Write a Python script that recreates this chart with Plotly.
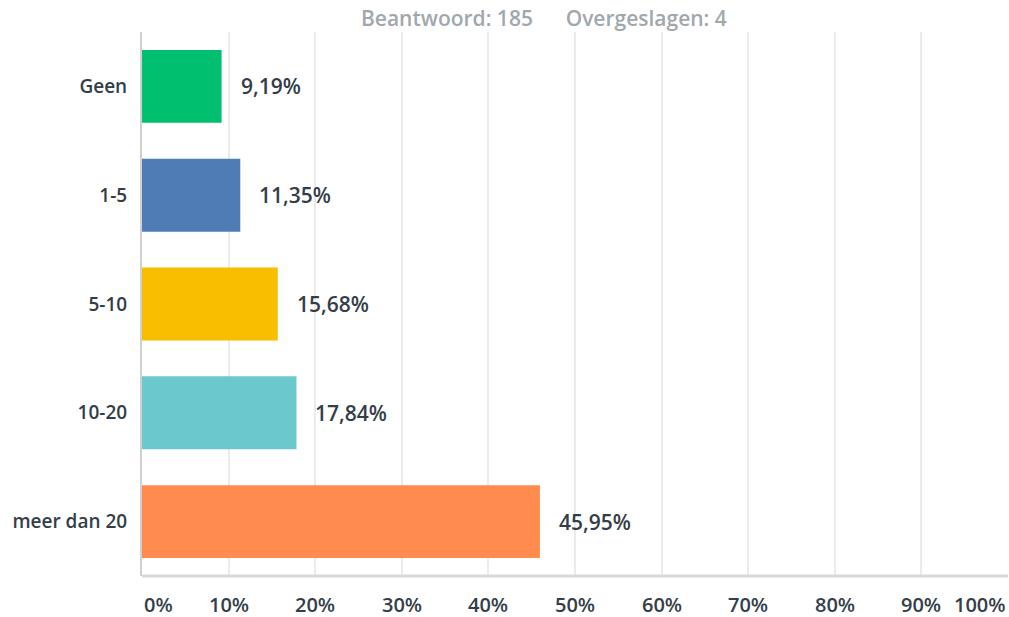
import plotly.graph_objects as go

categories = ["Geen", "1-5", "5-10", "10-20", "meer dan 20"]
values = [9.19, 11.35, 15.68, 17.84, 45.95]
colors = ["#00BF6F", "#507CB6", "#F9BE00", "#6BC8CD", "#FF8B4F"]
tick_vals = [0, 10, 20, 30, 40, 50, 60, 70, 80, 90, 100]
tick_text = [f"{v}%" for v in tick_vals]
header = "Beantwoord: 185      Overgeslagen: 4"

FONT = "Open Sans"
DARK = "#333E48"

fig = go.Figure()
fig.add_trace(go.Bar(
    y=categories, x=values, orientation="h",
    marker=dict(color=colors, line=dict(width=0)),
    width=0.67, hoverinfo="skip",
))

annotations = []
for c, v in zip(categories, values):
    annotations.append(dict(
        x=v, y=c, xref="x", yref="y", text=f"{v:.2f}".replace(".", ",") + "%",
        showarrow=False, xanchor="left", xshift=17,
        font=dict(family=FONT, size=21, color=DARK, weight=600),
    ))
for tv, tt in zip(tick_vals, tick_text):
    anchor = "center"
    if tv == 0:
        anchor = "left"
    elif tv == 100:
        anchor = "right"
    annotations.append(dict(
        x=tv, y=0, xref="x", yref="paper", text=tt, showarrow=False,
        xanchor=anchor, yanchor="middle", yshift=-28, height=22, valign="middle",
        font=dict(family=FONT, size=20, color=DARK, weight=600),
    ))
annotations.append(dict(
    x=(544 - 142) / (1008 - 142), y=1 + (32 - 18) / 544, xref="paper", yref="paper",
    text=header, showarrow=False, yanchor="middle",
    font=dict(family=FONT, size=21, color="#A0A8AE", weight=600),
))

fig.update_layout(
    width=1009, height=617,
    margin=dict(l=142, r=1, t=32, b=41),
    paper_bgcolor="white", plot_bgcolor="white",
    showlegend=False,
    annotations=annotations,
    xaxis=dict(
        range=[0, 100], tickvals=tick_vals, showticklabels=False,
        showgrid=True, gridcolor="#EBEBEB", gridwidth=2,
        zeroline=False, showline=False, fixedrange=True,
    ),
    yaxis=dict(
        categoryorder="array", categoryarray=categories, autorange="reversed",
        range=[4.5, -0.5], showgrid=False, zeroline=False,
        showline=True, linecolor="#D0D0D0", linewidth=2,
        ticks="", ticklabelstandoff=9,
        tickfont=dict(family=FONT, size=19, color=DARK, weight=600),
    ),
    shapes=[dict(type="line", xref="paper", yref="paper", x0=0, x1=1, y0=0, y1=0,
                 line=dict(color="#D9D9D9", width=3))],
)

fig.write_html("out.html")
